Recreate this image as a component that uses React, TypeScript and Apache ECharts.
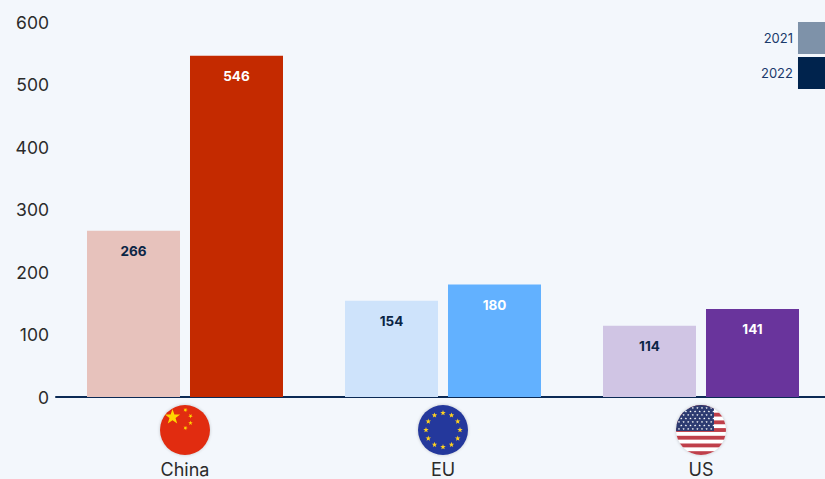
import React, { useEffect, useRef } from "react";
import * as echarts from "echarts";

const categories = ["China", "EU", "US"];
const values2021 = [266, 154, 114];
const values2022 = [546, 180, 141];
const colors2021 = ["#e7c2bc", "#cee3fb", "#d0c5e4"];
const colors2022 = ["#c42a00", "#62b1ff", "#69349c"];
const labelColors2021 = ["#0b2545", "#0b2545", "#0b2545"];
const labelColors2022 = ["#ffffff", "#ffffff", "#ffffff"];
const yTicks = [0, 100, 200, 300, 400, 500, 600];

const FONT = "Inter";

const wrap = (inner: string) =>
  "data:image/svg+xml;utf8," +
  encodeURIComponent(
    `<svg xmlns="http://www.w3.org/2000/svg" width="60" height="60" viewBox="0 0 60 60"><defs><clipPath id="c"><circle cx="30" cy="30" r="25"/></clipPath><filter id="s" x="-20%" y="-20%" width="140%" height="140%"><feGaussianBlur stdDeviation="1.5"/></filter></defs><circle cx="30" cy="30" r="25.5" fill="#000" opacity="0.14" filter="url(#s)"/><g clip-path="url(#c)">${inner}</g></svg>`
  );

const star = (cx: number, cy: number, r: number, fill: string, rot = 0) => {
  const pts: string[] = [];
  for (let i = 0; i < 10; i++) {
    const rad = i % 2 === 0 ? r : r * 0.4;
    const a = ((-90 + rot + i * 36) * Math.PI) / 180;
    pts.push(`${(cx + rad * Math.cos(a)).toFixed(2)},${(cy + rad * Math.sin(a)).toFixed(2)}`);
  }
  return `<polygon points="${pts.join(" ")}" fill="${fill}"/>`;
};

const chinaFlag = wrap(
  `<rect width="60" height="60" fill="#e12c10"/>` +
    star(17.5, 17, 8, "#ffd500") +
    star(30.5, 10, 2.4, "#ffd500", 20) +
    star(35.5, 16, 2.4, "#ffd500", 40) +
    star(35.5, 23, 2.4, "#ffd500", 0) +
    star(30.5, 28, 2.4, "#ffd500", 20)
);

const euStarAngles = [0, 30, 60, 90, 120, 150, 180, 210, 240, 270, 300, 330];
const euFlag = wrap(
  `<rect width="60" height="60" fill="#24389c"/>` +
    euStarAngles
      .map((d) =>
        star(
          30 + 17 * Math.cos((d * Math.PI) / 180),
          30 + 17 * Math.sin((d * Math.PI) / 180),
          2.9,
          "#ffd21f"
        )
      )
      .join("")
);

const stripeRows = [0, 1, 2, 3, 4, 5, 6, 7, 8, 9, 10, 11, 12];
const starRows = [0, 1, 2, 3, 4, 5, 6];
const starCols = [0, 1, 2, 3, 4, 5, 6, 7];
const usFlag = wrap(
  `<rect width="60" height="60" fill="#ffffff"/>` +
    stripeRows
      .filter((i) => i % 2 === 0)
      .map((i) => `<rect x="0" y="${5 + i * 3.85}" width="60" height="3.85" fill="#bf3f4a"/>`)
      .join("") +
    `<rect x="0" y="0" width="43" height="31" fill="#2c3a70"/>` +
    starRows
      .map((r) =>
        starCols
          .map((c) => star(8 + c * 4.6 + (r % 2 ? 2.3 : 0), 8 + r * 3.5, 1.25, "#ffffff"))
          .join("")
      )
      .join("")
);

const flagImages = [chinaFlag, euFlag, usFlag];

export default function App() {
  const ref = useRef<HTMLDivElement>(null);
  useEffect(() => {
    const chart = echarts.init(ref.current!, undefined, { renderer: "svg" });
    const rich: Record<string, any> = {
      name: {
        fontFamily: FONT,
        fontSize: 18,
        color: "#2b2b2b",
        lineHeight: 18,
        padding: [1, 0, 0, 0],
      },
    };
    categories.forEach((c, i) => {
      rich["f" + i] = {
        width: 60,
        height: 60,
        lineHeight: 60,
        backgroundColor: { image: flagImages[i] },
      };
    });
    const barLabel = (colors: string[]) => ({
      show: true,
      position: "insideTop" as const,
      distance: 13,
      fontFamily: FONT,
      fontSize: 13,
      fontWeight: 700,
      formatter: (p: any) => `{c${p.dataIndex}|${p.value}}`,
      rich: {
        c0: { color: colors[0], fontFamily: FONT, fontSize: 13.5, fontWeight: 700 },
        c1: { color: colors[1], fontFamily: FONT, fontSize: 13.5, fontWeight: 700 },
        c2: { color: colors[2], fontFamily: FONT, fontSize: 13.5, fontWeight: 700 },
      },
    });
    chart.setOption({
      animation: false,
      backgroundColor: "#f3f7fc",
      textStyle: { fontFamily: FONT },
      grid: { left: 56, width: 774, top: 22, height: 375, containLabel: false, outerBoundsMode: "none" },
      legend: {
        orient: "vertical",
        left: 761,
        top: 22,
        align: "right",
        itemWidth: 32,
        itemHeight: 32,
        itemGap: 3,
        icon: "rect",
        selectedMode: false,
        padding: 0,
        textStyle: { fontFamily: FONT, fontSize: 13, color: "#1a3a6b" },
        data: ["2021", "2022"],
      },
      xAxis: {
        type: "category",
        data: categories,
        axisTick: { show: false },
        axisLine: { lineStyle: { color: "#0b2a55", width: 2 } },
        axisLabel: {
          margin: 3,
          interval: 0,
          hideOverlap: false,
          formatter: (v: string) => `{f${categories.indexOf(v)}|}\n{name|${v}}`,
          rich,
        },
      },
      yAxis: {
        type: "value",
        min: 0,
        max: 600,
        interval: 100,
        splitLine: { show: false },
        axisLine: { show: false },
        axisTick: { show: false },
        axisLabel: {
          margin: 7,
          fontFamily: FONT,
          fontSize: 17.5,
          color: "#2b2b2b",
          formatter: (v: number) => (yTicks.includes(v) ? String(v) : ""),
        },
      },
      series: [
        {
          name: "2021",
          type: "bar",
          barWidth: 93,
          barGap: "10.75%",
          itemStyle: { color: "#7e92a9" },
          data: values2021.map((v, i) => ({ value: v, itemStyle: { color: colors2021[i] } })),
          label: barLabel(labelColors2021),
        },
        {
          name: "2022",
          type: "bar",
          barWidth: 93,
          itemStyle: { color: "#00234d" },
          data: values2022.map((v, i) => ({ value: v, itemStyle: { color: colors2022[i] } })),
          label: barLabel(labelColors2022),
        },
      ],
    });
    return () => chart.dispose();
  }, []);
  return (
    <div
      ref={ref}
      style={{ position: "fixed", left: 0, top: 0, width: 825, height: 479, overflow: "hidden" }}
    />
  );
}
